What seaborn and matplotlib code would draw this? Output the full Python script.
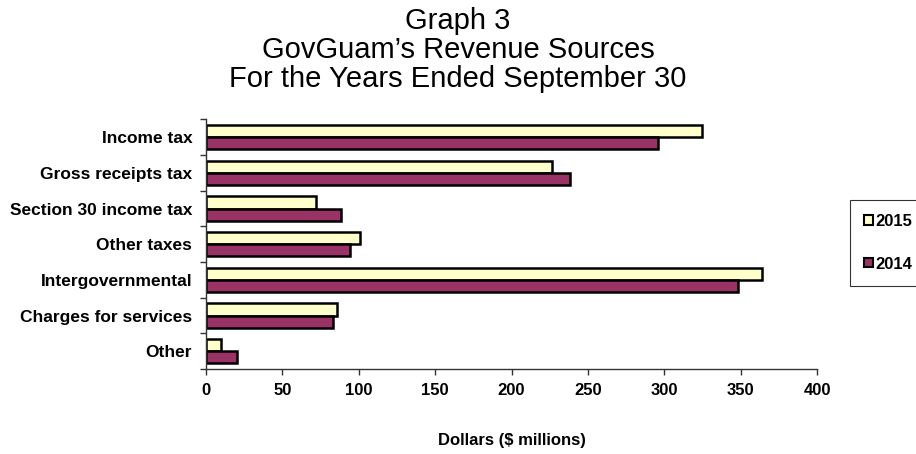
import pandas as pd
import numpy as np
import matplotlib.pyplot as plt
import seaborn as sns

# Data ($ millions)
categories = ['Income tax', 'Gross receipts tax', 'Section 30 income tax', 'Other taxes',
              'Intergovernmental', 'Charges for services', 'Other']
values_2015 = [324.5, 226.5, 72, 100.5, 364, 86, 10]
values_2014 = [296, 238.5, 88.5, 94.5, 348, 83, 20.5]
years = ['2015', '2014']
colors = {'2015': '#FFFFCC', '2014': '#993366'}
x_ticks = [0, 50, 100, 150, 200, 250, 300, 350, 400]

df = pd.DataFrame({
    'Source': categories * 2,
    'Year': ['2015'] * len(categories) + ['2014'] * len(categories),
    'Value': values_2015 + values_2014,
})

sns.set_style('ticks')
plt.rcParams['font.family'] = ['Liberation Sans', 'DejaVu Sans']
for key in ['text.color', 'axes.labelcolor', 'xtick.color', 'ytick.color']:
    plt.rcParams[key] = 'black'

fig = plt.figure(figsize=(9.16, 4.54), dpi=100)
ax = fig.add_axes([0.225, 0.187, 0.667, 0.55])

sns.barplot(data=df, x='Value', y='Source', hue='Year', hue_order=years,
            order=categories, palette=colors, orient='h', width=0.68,
            edgecolor='black', linewidth=1.8, saturation=1, ax=ax, legend=True)

ax.set_xlim(0, 400)
ax.set_ylim(len(categories) - 0.5, -0.5)
ax.set_xticks(x_ticks)
ax.set_xticklabels([str(t) for t in x_ticks], fontsize=12, fontweight='bold')
ax.set_yticks(range(len(categories)))
ax.set_yticklabels(categories, fontsize=12.5, fontweight='bold')
ax.set_yticks(np.arange(-0.5, len(categories), 1), minor=True)
ax.tick_params(axis='y', which='major', left=True, length=0, pad=10)
ax.tick_params(axis='y', which='minor', left=True, length=4, width=1, color='#333333', direction='out')
ax.tick_params(axis='x', which='major', bottom=True, length=4, width=1, color='#333333',
               direction='out', pad=6)
ax.set_ylabel('')
ax.set_xlabel('Dollars ($ millions)', fontsize=12, fontweight='bold', labelpad=25)

for side in ['top', 'right']:
    ax.spines[side].set_visible(False)
for side in ['left', 'bottom']:
    ax.spines[side].set_color('#333333')
    ax.spines[side].set_linewidth(1)

# Title (three centred lines)
fig.text(0.5, 1 - 87 / 454, 'Graph 3\nGovGuam\u2019s Revenue Sources\nFor the Years Ended September 30',
         ha='center', va='baseline', fontsize=21, linespacing=1.05, multialignment='center')

leg = ax.legend(loc='center left', bbox_to_anchor=(0.928, 0.465), bbox_transform=fig.transFigure,
                frameon=True, fancybox=False, edgecolor='black', handlelength=0.5,
                handleheight=0.5, handletextpad=0.15, labelspacing=1.65, borderpad=0.85,
                borderaxespad=0, prop={'weight': 'bold', 'size': 12})
leg.get_frame().set_linewidth(0.8)
for h in leg.legend_handles:
    h.set_linewidth(1.5)

fig.savefig('out.png', dpi=100)
